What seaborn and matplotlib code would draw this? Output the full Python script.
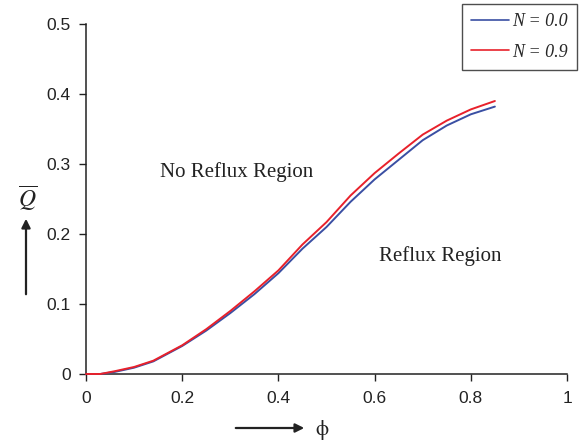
import matplotlib
matplotlib.use("Agg")
import matplotlib.pyplot as plt
import seaborn as sns
import pandas as pd

# flow rate Q-bar against phi for two values of N
phi = [0, 0.03, 0.06, 0.10, 0.14, 0.20, 0.25, 0.30, 0.35, 0.40, 0.45, 0.50,
       0.55, 0.60, 0.65, 0.70, 0.75, 0.80, 0.85]
q_n00 = [0, 0, 0.003, 0.009, 0.018, 0.040, 0.062, 0.087, 0.114, 0.144, 0.179,
         0.210, 0.246, 0.278, 0.306, 0.334, 0.355, 0.371, 0.382]
q_n09 = [0, 0, 0.004, 0.010, 0.019, 0.041, 0.064, 0.090, 0.118, 0.148, 0.185,
         0.217, 0.255, 0.287, 0.315, 0.342, 0.362, 0.378, 0.390]
series_labels = ["N = 0.0", "N = 0.9"]
x_ticks = [0, 0.2, 0.4, 0.6, 0.8, 1]
x_tick_labels = ["0", "0.2", "0.4", "0.6", "0.8", "1"]
y_ticks = [0, 0.1, 0.2, 0.3, 0.4, 0.5]
y_tick_labels = ["0", "0.1", "0.2", "0.3", "0.4", "0.5"]

df = pd.concat([
    pd.DataFrame({"phi": phi, "Q": q_n00, "N": series_labels[0]}),
    pd.DataFrame({"phi": phi, "Q": q_n09, "N": series_labels[1]}),
])

sns.set_theme(style="ticks")
plt.rcParams["font.family"] = ["Liberation Sans", "DejaVu Sans"]
plt.rcParams["mathtext.fontset"] = "stix"

fig = plt.figure(figsize=(5.87, 4.43), dpi=100)
ax = fig.add_axes([0.1465, 0.1558, 0.8195, 0.79])

palette = {series_labels[0]: "#3a4fa3", series_labels[1]: "#e8212b"}
sns.lineplot(data=df, x="phi", y="Q", hue="N", palette=palette, ax=ax,
             linewidth=1.4, legend=False, sort=False)
for line in ax.lines:
    line.set_clip_on(False)
    line.set_zorder(5)

ax.set_xlim(0, 1)
ax.set_ylim(0, 0.5)
ax.set_xticks(x_ticks)
ax.set_xticklabels(x_tick_labels)
ax.set_yticks(y_ticks)
ax.set_yticklabels(y_tick_labels)
ax.set_xlabel("")
ax.set_ylabel("")
ax.tick_params(axis="both", labelsize=12.5, length=5, width=1, colors="#222222",
               direction="out", pad=6)
ax.tick_params(axis="x", pad=7)
for side in ["top", "right"]:
    ax.spines[side].set_visible(False)
for side in ["left", "bottom"]:
    ax.spines[side].set_linewidth(1.1)
    ax.spines[side].set_color("#222222")

# region annotations
ax.text(0.3135, 0.289, "No Reflux Region", fontsize=15, family="Liberation Serif",
        ha="center", va="center", color="#222222")
ax.text(0.736, 0.169, "Reflux Region", fontsize=15, family="Liberation Serif",
        ha="center", va="center", color="#222222")

# axis labels with arrows
fig.text(28 / 587, 1 - 198 / 443, r"$\overline{Q}$", fontsize=17,
         ha="center", va="center", color="#222222")
fig.add_artist(matplotlib.patches.FancyArrowPatch(
    (26 / 587, 1 - 297 / 443), (26 / 587, 1 - 216 / 443),
    transform=fig.transFigure, arrowstyle="-|>", mutation_scale=13,
    linewidth=1.6, color="#222222"))
fig.add_artist(matplotlib.patches.FancyArrowPatch(
    (233 / 587, 1 - 428 / 443), (307 / 587, 1 - 428 / 443),
    transform=fig.transFigure, arrowstyle="-|>", mutation_scale=13,
    linewidth=1.6, color="#222222"))
fig.text(322 / 587, 1 - 430 / 443, "\u03d5", fontsize=15, family="STIXGeneral",
         ha="center", va="center", color="#222222")

handles = [matplotlib.lines.Line2D([], [], color=palette[s], linewidth=1.2)
           for s in series_labels]
leg = fig.legend(handles, series_labels, loc="upper right",
                 bbox_to_anchor=(577 / 587, 1 - 4 / 443),
                 prop={"family": "Liberation Serif", "style": "italic", "size": 13},
                 frameon=True, fancybox=False, edgecolor="#222222",
                 handlelength=2.1, handletextpad=0.2, borderpad=0.5,
                 labelspacing=0.75, borderaxespad=0)
leg.get_frame().set_linewidth(1.0)

fig.savefig("out.png", dpi=100)
